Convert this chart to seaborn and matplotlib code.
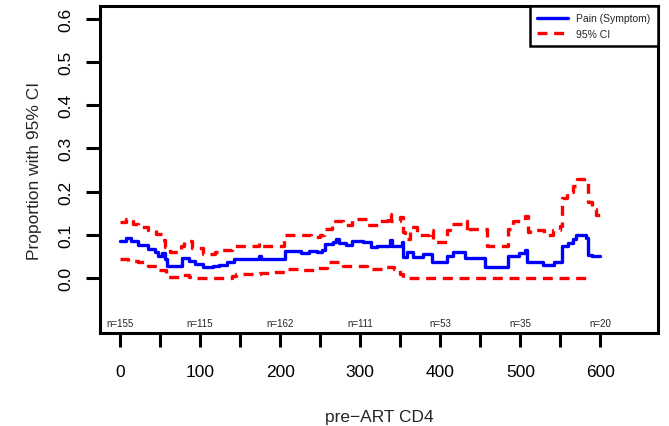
import matplotlib
matplotlib.use("Agg")
import matplotlib.pyplot as plt
from matplotlib.lines import Line2D
import pandas as pd
import seaborn as sns

# Step curves (pre-ART CD4, proportion)
est_x = [0, 8, 14, 23, 35, 44, 48, 52, 56, 59, 76, 78, 86, 94, 104, 116, 124, 133,
         142, 172, 174, 176, 202, 206, 226, 236, 246, 252, 256, 266, 270, 274, 282,
         290, 304, 313, 321, 337, 340, 352, 354, 358, 366, 379, 390, 408, 416, 431,
         456, 485, 498, 506, 508, 528, 542, 552, 560, 566, 570, 582, 585, 590, 600]
est_y = [0.085, 0.093, 0.085, 0.077, 0.068, 0.060, 0.052, 0.058, 0.045, 0.029, 0.029,
         0.046, 0.040, 0.033, 0.025, 0.028, 0.031, 0.038, 0.043, 0.043, 0.050, 0.043,
         0.045, 0.062, 0.058, 0.062, 0.060, 0.064, 0.079, 0.083, 0.090, 0.080, 0.076,
         0.085, 0.083, 0.072, 0.075, 0.087, 0.074, 0.083, 0.049, 0.060, 0.049, 0.056,
         0.037, 0.052, 0.060, 0.046, 0.025, 0.051, 0.059, 0.064, 0.037, 0.031, 0.037,
         0.075, 0.080, 0.091, 0.100, 0.093, 0.054, 0.051, 0.051]

upper_x = [0, 8, 16, 23, 35, 45, 52, 56, 62, 76, 80, 90, 104, 118, 127, 140, 174, 176,
           205, 238, 250, 255, 265, 278, 290, 308, 323, 335, 338, 350, 354, 356, 362,
           371, 387, 391, 408, 412, 429, 433, 437, 458, 485, 491, 506, 509, 512, 529,
           541, 550, 552, 558, 566, 571, 580, 585, 589, 595, 600]
upper_y = [0.130, 0.136, 0.125, 0.118, 0.110, 0.103, 0.087, 0.072, 0.060, 0.075, 0.085,
           0.069, 0.055, 0.060, 0.065, 0.074, 0.080, 0.074, 0.099, 0.095, 0.099, 0.114,
           0.133, 0.122, 0.137, 0.122, 0.133, 0.149, 0.133, 0.142, 0.106, 0.091, 0.118,
           0.099, 0.110, 0.083, 0.110, 0.126, 0.133, 0.106, 0.114, 0.075, 0.114, 0.133,
           0.144, 0.106, 0.110, 0.099, 0.110, 0.120, 0.184, 0.198, 0.214, 0.230, 0.222,
           0.176, 0.160, 0.145, 0.145]

lower_x = [0, 10, 23, 35, 47, 58, 75, 79, 86, 94, 140, 145, 175, 190, 210, 226, 244,
           259, 279, 287, 308, 329, 342, 350, 354, 590]
lower_y = [0.045, 0.040, 0.037, 0.028, 0.018, 0.002, 0.002, 0.006, 0.002, 0.0, 0.004,
           0.010, 0.012, 0.014, 0.022, 0.018, 0.024, 0.037, 0.029, 0.029, 0.022, 0.025,
           0.021, 0.010, 0.0, 0.0]

n_pos = [0, 100, 200, 300, 400, 500, 600]
n_labels = ["n=155", "n=115", "n=162", "n=111", "n=53", "n=35", "n=20"]

sns.set_style("ticks")
plt.rcParams["font.family"] = ["Liberation Sans", "DejaVu Sans"]

fig = plt.figure(figsize=(6.69, 4.27), dpi=100)
ax = fig.add_axes([0.1495, 0.2178, 0.8341, 0.7658])

dash = (0, (3, 2))
sns.lineplot(x=est_x, y=est_y, drawstyle="steps-post", color="#0000FF", lw=2.4, ax=ax)
sns.lineplot(x=upper_x, y=upper_y, drawstyle="steps-post", color="#FF0000", lw=2.4,
             ls=dash, ax=ax)
sns.lineplot(x=lower_x, y=lower_y, drawstyle="steps-post", color="#FF0000", lw=2.4,
             ls=dash, ax=ax)

ax.set_xlim(-25, 672)
ax.set_ylim(-0.127, 0.629)

for xp, lab in zip(n_pos, n_labels):
    ax.text(xp, -0.103, lab, ha="center", va="center", fontsize=7)

ax.set_xticks(range(0, 601, 100))
ax.set_xticks(range(50, 600, 100), minor=True)
ax.set_yticks([0, 0.1, 0.2, 0.3, 0.4, 0.5, 0.6])
ax.set_yticklabels(["0.0", "0.1", "0.2", "0.3", "0.4", "0.5", "0.6"])
ax.tick_params(axis="both", which="both", length=10, width=2.2, color="black",
               labelsize=12.5, labelcolor="black")
ax.tick_params(axis="x", pad=12)
ax.tick_params(axis="y", pad=9, labelrotation=90)
for lab in ax.get_yticklabels():
    lab.set_va("center")

for s in ax.spines.values():
    s.set_visible(True)
    s.set_linewidth(2.2)
    s.set_color("black")

ax.set_xlabel("pre\u2212ART CD4", fontsize=12.5, labelpad=22)
ax.set_ylabel("Proportion with 95% CI", fontsize=12.5, labelpad=12)

handles = [Line2D([], [], color="#0000FF", lw=2.4),
           Line2D([], [], color="#FF0000", lw=2.4, ls=dash)]
leg = ax.legend(handles, ["Pain (Symptom)", "95% CI"], loc="upper right",
                borderaxespad=0, fancybox=False, framealpha=1, edgecolor="black",
                fontsize=7.5, handlelength=3.0, borderpad=0.7, labelspacing=0.5)
leg.get_frame().set_linewidth(1.8)

fig.savefig("out.png", dpi=100)
